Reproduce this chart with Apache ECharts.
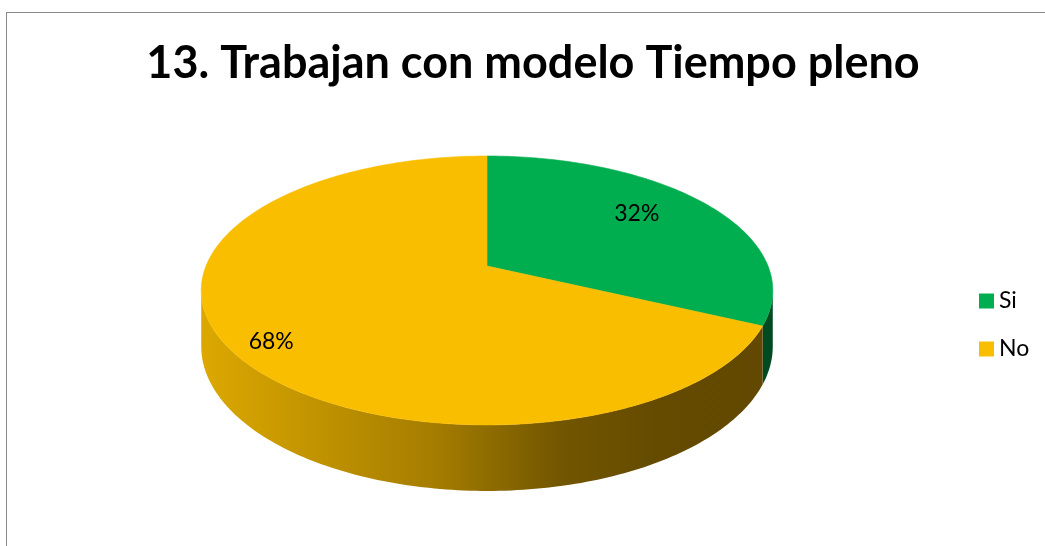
<!DOCTYPE html>
<html>
<head>
<meta charset="utf-8">
<script src="https://cdn.jsdelivr.net/npm/echarts@6/dist/echarts.min.js"></script>
<style>
  html, body { margin: 0; padding: 0; background: #fff; overflow: hidden; }
  #chart { width: 1045px; height: 546px; }
  #frame {
    position: absolute; left: 6px; top: 12px; width: 1200px; height: 700px;
    border: 1px solid #8a8a8a; pointer-events: none;
  }
</style>
</head>
<body>
<div id="chart"></div>
<div id="frame"></div>
<script>
  // data
  const categories = ['Si', 'No'];
  const values = [32, 68];

  // styles
  const topColors = ['#00ad4f', '#f9be00'];
  const wallColors = [
    [['#00602e', 0], ['#004a22', 1]],
    [['#dba700', 0], ['#a67e00', 0.4], ['#725600', 0.63], ['#654b00', 0.8], ['#624800', 1]]
  ];
  const labelRadius = [0.72, 0.87];
  const labelShift = -4.6 * Math.PI / 180;

  // pie layout (pixels): apex, radii, perspective tilt and thickness
  const pie = { cx: 487, cy: 266, rx: 281, ry: 130, tilt: 0.182, depth: 54 };

  const total = values.reduce((s, v) => s + v, 0);
  const starts = values.map((v, i) => values.slice(0, i).reduce((s, x) => s + x, 0));

  function proj(theta, r, down) {
    const u = r * Math.sin(theta);
    const v = -r * Math.cos(theta);
    const w = 1 - pie.tilt * v;
    return [pie.cx + pie.rx * u / w, pie.cy + pie.ry * v / w + (down ? pie.depth / w : 0)];
  }

  function arc(a0, a1, down) {
    const pts = [];
    const n = Math.max(2, Math.ceil((a1 - a0) / (Math.PI / 180)));
    for (let k = 0; k <= n; k++) {
      pts.push(proj(a0 + (a1 - a0) * k / n, 1, down));
    }
    return pts;
  }

  // front half of the outer wall, between the two silhouette points
  const front0 = Math.acos(-pie.tilt);
  const front1 = 2 * Math.PI - front0;

  function renderSlice(params, api) {
    const i = params.seriesIndex;
    const start = api.value(0);
    const val = api.value(1);
    const a0 = start / total * 2 * Math.PI;
    const a1 = (start + val) / total * 2 * Math.PI;
    const children = [];

    const w0 = Math.max(a0, front0);
    const w1 = Math.min(a1, front1);
    if (w1 > w0) {
      const pts = arc(w0, w1, false).concat(arc(w0, w1, true).reverse());
      children.push({
        type: 'polygon',
        shape: { points: pts },
        style: {
          fill: {
            type: 'linear', global: true, x: pie.cx - pie.rx, y: 0, x2: pie.cx + pie.rx, y2: 0,
            colorStops: wallColors[i].map(s => ({ offset: s[1], color: s[0] }))
          }
        }
      });
    }

    const topPts = [[pie.cx, pie.cy]].concat(arc(a0, a1, false));
    children.push({
      type: 'polygon',
      shape: { points: topPts },
      style: { fill: topColors[i], stroke: topColors[i], lineWidth: 0.6 }
    });

    const mid = (a0 + a1) / 2 + labelShift;
    const lp = proj(mid, labelRadius[i], false);
    children.push({
      type: 'text',
      style: {
        text: Math.round(val / total * 100) + '%',
        x: lp[0], y: lp[1],
        align: 'center', verticalAlign: 'middle',
        fill: '#000', fontSize: 23, fontFamily: 'Lato'
      }
    });

    return { type: 'group', children: children };
  }

  const chart = echarts.init(document.getElementById('chart'));
  chart.setOption({
    animation: false,
    title: {
      text: '13. Trabajan con modelo Tiempo pleno',
      left: 528, top: 36, textAlign: 'center',
      textStyle: { fontFamily: 'Lato', fontWeight: 'bold', fontSize: 45, color: '#000' }
    },
    legend: {
      orient: 'vertical',
      left: 979, top: 289, padding: 0,
      icon: 'rect', itemWidth: 15, itemHeight: 15, itemGap: 24,
      data: categories,
      textStyle: { fontFamily: 'Lato', fontSize: 23, lineHeight: 24, color: '#000' }
    },
    series: categories.map((name, i) => ({
      type: 'custom',
      name: name,
      coordinateSystem: 'none',
      silent: true,
      itemStyle: { color: topColors[i] },
      renderItem: renderSlice,
      data: [[starts[i], values[i]]]
    }))
  });
</script>
</body>
</html>
